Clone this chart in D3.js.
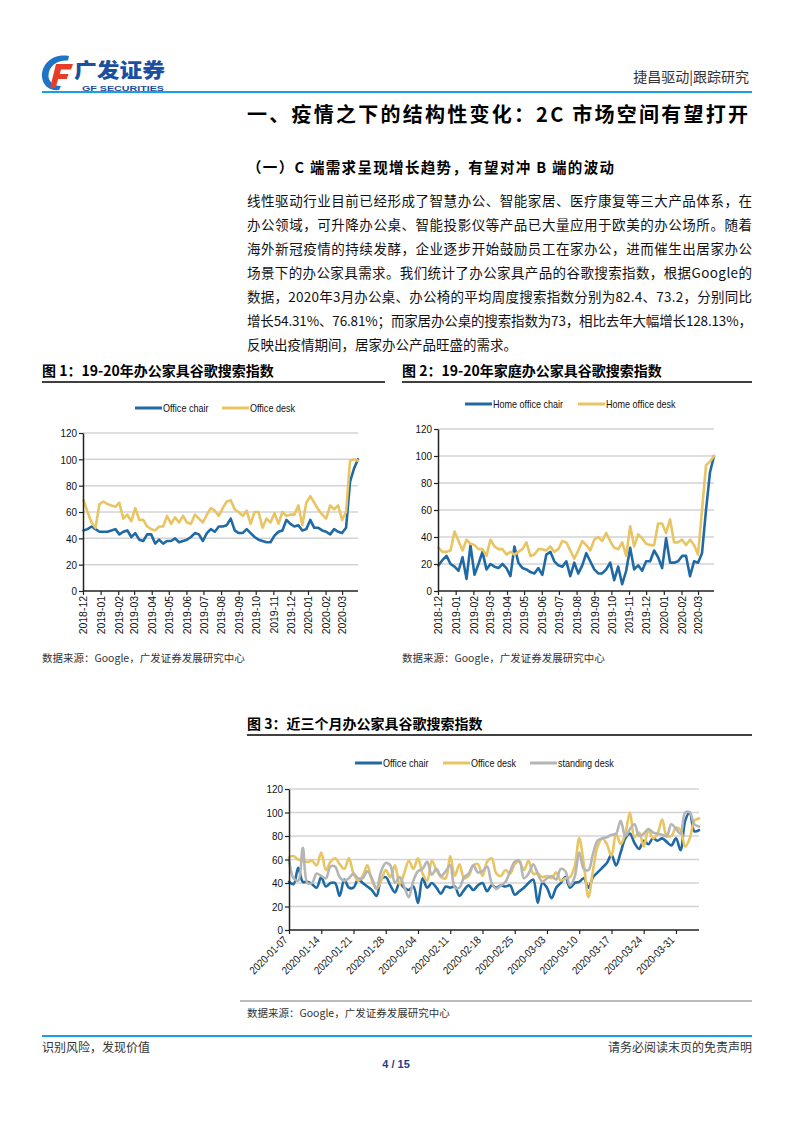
<!DOCTYPE html>
<html><head><meta charset="utf-8">
<script src="https://cdn.jsdelivr.net/npm/d3@7"></script>
<style>
html,body{margin:0;padding:0;background:#fff;}
svg{display:block;}
</style></head><body>
<svg id="page" width="793" height="1122"></svg>
<script>
// ---------- DATA ----------
const monthLabels = ["2018-12","2019-01","2019-02","2019-03","2019-04","2019-05","2019-06","2019-07","2019-08","2019-09","2019-10","2019-11","2019-12","2020-01","2020-02","2020-03"];
const yTicks = [0,20,40,60,80,100,120];

// Fig 1 weekly (2018-12-02 .. 2020-03-29)
const officeChair = [46,47,49,47,45,45,45,46,47,43, 45,46,41,44,39,38,43,43,36,39, 36,38,38,40,37,38,39,41,44,43, 38,44,47,45,49,49,50,55,46,44, 44,47,44,41,39,38,37,37,42,45, 46,54,51,49,50,46,47,54,48,48, 46,45,43,47,45,44,48,83,93,100];
const officeDesk  = [69,60,52,48,66,68,66,65,64,67, 55,58,53,63,54,54,49,47,46,49, 49,57,51,56,52,57,52,51,58,55, 52,58,63,61,57,63,68,69,62,60, 57,61,51,60,60,48,55,52,59,51, 60,57,58,58,65,50,67,72,67,62, 58,55,65,62,65,54,60,99,100,99];

// Fig 2 weekly
const homeChair = [19,23,26,20,18,15,25,9,34,12, 20,29,16,20,18,17,20,17,11,33, 21,17,16,14,13,17,12,27,29,22, 19,18,22,11,21,13,19,28,22,16, 13,13,16,21,8,18,5,15,32,16, 19,15,22,22,30,25,17,39,21,21, 22,26,26,11,22,21,28,60,88,100];
const homeDesk  = [32,29,29,30,44,37,30,38,35,34, 31,31,26,38,33,31,31,27,29,27, 29,31,36,26,27,31,31,30,33,29, 31,37,36,30,24,30,37,34,30,38, 40,37,43,37,32,31,36,26,48,33, 42,39,35,34,34,50,50,43,53,36, 36,38,34,38,34,27,60,93,96,100];

// Fig 3 daily (2020-01-07 .. 2020-04-05)
const dayLabels = ["2020-01-07","2020-01-14","2020-01-21","2020-01-28","2020-02-04","2020-02-11","2020-02-18","2020-02-25","2020-03-03","2020-03-10","2020-03-17","2020-03-24","2020-03-31"];
const dailyChair = [41,39,53,41,41,39,36,45,37,40, 40,29,43,36,36,43,40,37,34,29, 43,45,38,32,40,36,34,37,23,44, 36,40,36,31,37,36,37,29,34,38, 34,38,40,33,38,36,38,37,38,30, 33,36,40,43,23,40,36,27,36,40, 45,36,40,41,44,36,45,49,53,57, 64,55,66,78,82,74,69,76,73,78, 76,78,75,72,78,68,93,100,84,85];
const dailyDesk  = [62,63,60,59,58,59,55,66,51,58, 61,56,52,61,48,42,46,55,42,35, 42,51,45,55,39,48,59,52,61,48, 42,59,51,45,44,63,46,56,44,46, 55,56,46,58,61,48,46,51,48,56, 58,51,59,48,48,45,46,44,49,42, 44,45,54,78,56,28,51,71,78,73, 63,82,73,82,100,79,83,71,85,78, 82,94,80,80,87,85,71,78,93,95];
const dailyStanding = [60,44,42,70,40,40,48,46,44,54, 54,45,42,44,48,44,44,50,44,35, 50,57,55,40,45,37,28,42,50,52, 58,47,52,46,50,55,36,36,45,48, 55,49,50,54,40,35,38,41,50,58, 59,44,48,56,48,41,44,46,43,52, 50,38,45,66,52,51,65,76,78,79, 81,82,93,80,86,90,80,82,86,83, 82,81,80,90,86,82,100,100,90,88];

const bodyLines = [
  "线性驱动行业目前已经形成了智慧办公、智能家居、医疗康复等三大产品体系，在",
  "办公领域，可升降办公桌、智能投影仪等产品已大量应用于欧美的办公场所。随着",
  "海外新冠疫情的持续发酵，企业逐步开始鼓励员工在家办公，进而催生出居家办公",
  "场景下的办公家具需求。我们统计了办公家具产品的谷歌搜索指数，根据Google的",
  "数据，2020年3月办公桌、办公椅的平均周度搜索指数分别为82.4、73.2，分别同比",
  "增长54.31%、76.81%；而家居办公桌的搜索指数为73，相比去年大幅增长128.13%，",
  "反映出疫情期间，居家办公产品旺盛的需求。"
];

// ---------- STYLE ----------
const CJK = "'Noto Sans CJK SC','Noto Sans',sans-serif";
const NUM = "'Liberation Sans',Arial,sans-serif";
const BLUE = "#1f6aa5", YELLOW = "#e8c463", GRAY = "#b5b5b5";
const HEAD_BLUE = "#1aa0e0";

const svg = d3.select("#page");
svg.append("rect").attr("width",793).attr("height",1122).attr("fill","#fff");

// narrow-font imitation
function condense(sel, f){
  sel.each(function(){
    const w = this.getComputedTextLength();
    d3.select(this).attr("textLength", w*f).attr("lengthAdjust","spacingAndGlyphs");
  });
}

// ---------- HEADER ----------
const logo = svg.append("g");
logo.append("path").attr("d","M69,56 C52,53 41,65 42,77 C43,86 50,91 59,90 L61,86 C53,86 48,81 48.5,75 C49,66 57,60 68,60.5 Z").attr("fill","#2074c6");
logo.append("path").attr("d","M56,64 L73,64 L71,69.5 L61,69.5 L59.8,74 L68.5,74 L66.8,79 L58.2,79 L55.5,88 L50,88 Z").attr("fill","#e63c2a");
logo.append("text").attr("x",74).attr("y",77.5).attr("font-family",CJK).attr("font-weight",900)
  .attr("font-size",20.5).attr("fill","#1d4f9f").attr("textLength",91).attr("lengthAdjust","spacingAndGlyphs").text("广发证券");
logo.append("text").attr("x",82).attr("y",90.5).attr("font-family","'Liberation Sans',Arial,sans-serif").attr("font-weight",700)
  .attr("font-size",7.5).attr("fill","#1d4f9f").attr("textLength",82).attr("lengthAdjust","spacingAndGlyphs").text("GF SECURITIES");
svg.append("text").attr("x",749).attr("y",82).attr("text-anchor","end").attr("font-family",CJK)
  .attr("font-size",14).attr("fill","#333").text("捷昌驱动|跟踪研究");
svg.append("line").attr("x1",42).attr("x2",752).attr("y1",92).attr("y2",92).attr("stroke",HEAD_BLUE).attr("stroke-width",2);

// ---------- TITLES & BODY ----------
svg.append("text").attr("x",247).attr("y",122).attr("font-family",CJK).attr("font-weight",700)
  .attr("font-size",20).attr("fill","#000").attr("textLength",501).attr("lengthAdjust","spacing")
  .text("一、疫情之下的结构性变化：2C 市场空间有望打开");
svg.append("text").attr("x",247).attr("y",173).attr("font-family",CJK).attr("font-weight",700)
  .attr("font-size",14.5).attr("fill","#000").attr("textLength",367).attr("lengthAdjust","spacing")
  .text("（一）C 端需求呈现增长趋势，有望对冲 B 端的波动");
svg.selectAll(".body").data(bodyLines).join("text")
  .attr("x",247).attr("y",(d,i)=>206+i*24).attr("font-family",CJK).attr("font-size",13.5).attr("fill","#111")
  .each(function(d,i){ if(i<bodyLines.length-1) d3.select(this).attr("textLength",505).attr("lengthAdjust","spacing"); })
  .text(d=>d);

// ---------- CHART HELPERS ----------
function figTitle(x, y, x2, txt){
  svg.append("text").attr("x",x).attr("y",y).attr("font-family",CJK).attr("font-weight",700)
    .attr("font-size",14).attr("fill","#000").text(txt);
  svg.append("line").attr("x1",x).attr("x2",x2).attr("y1",y+6).attr("y2",y+6).attr("stroke","#000").attr("stroke-width",1.3);
}
function source(x,y){
  svg.append("text").attr("x",x).attr("y",y).attr("font-family",CJK).attr("font-size",10.5).attr("fill","#333")
    .text("数据来源：Google，广发证券发展研究中心");
}
function legend(items, y){
  const g = svg.append("g");
  items.forEach(it=>{
    g.append("line").attr("x1",it.x).attr("x2",it.x+27).attr("y1",y).attr("y2",y).attr("stroke",it.color).attr("stroke-width",3);
    const t = g.append("text").attr("x",it.x+28).attr("y",y+4).attr("font-family",NUM).attr("font-size",11).attr("fill","#111").text(it.label);
    condense(t, 0.82);
  });
}
function chart(cfg){
  const g = svg.append("g");
  const y = d3.scaleLinear().domain([0,120]).range([cfg.bottom, cfg.top]);
  const x = cfg.x;
  g.selectAll("line.grid").data(yTicks.filter(v=>v>0)).join("line").attr("class","grid")
    .attr("x1",cfg.left).attr("x2",cfg.right).attr("y1",d=>y(d)).attr("y2",d=>y(d))
    .attr("stroke","#d3d3d3").attr("stroke-width",1.5);
  const line = d3.line().x(d=>x(d.date)).y(d=>y(d.v)).curve(cfg.curve || d3.curveLinear);
  cfg.series.forEach(s=>{
    const pts = s.values.map((v,i)=>({date: cfg.dates[i], v}));
    g.append("path").datum(pts).attr("d",line).attr("fill","none").attr("stroke",s.color)
      .attr("stroke-width",2.6).attr("stroke-linejoin","round").attr("stroke-linecap","round");
  });
  // y axis
  const ya = g.append("g").attr("transform",`translate(${cfg.left},0)`)
    .call(d3.axisLeft(y).tickValues(yTicks).tickSize(4).tickSizeOuter(0).tickFormat(d3.format("d")));
  ya.select(".domain").attr("stroke","#222").attr("stroke-width",1.5);
  ya.selectAll(".tick line").attr("stroke","#222").attr("stroke-width",1.2);
  const yt = ya.selectAll(".tick text").attr("font-family",NUM).attr("font-size",11.5).attr("fill","#111").attr("x",-6);
  condense(yt, 0.86);
  // x axis
  const xa = g.append("g").attr("transform",`translate(0,${cfg.bottom})`)
    .call(d3.axisBottom(x).tickValues(cfg.tickDates).tickSize(4).tickSizeOuter(0).tickFormat(cfg.fmt));
  xa.select(".domain").attr("stroke","#222").attr("stroke-width",1.5).attr("d",`M${cfg.left},0H${cfg.right}`);
  xa.selectAll(".tick line").attr("stroke","#222").attr("stroke-width",1.2);
  const tt = xa.selectAll(".tick text").attr("font-family",NUM).attr("font-size",11).attr("fill","#111");
  if(cfg.rotate === -90){
    tt.attr("transform","rotate(-90)").attr("text-anchor","end").attr("x",-5).attr("y",0).attr("dy","0.35em");
    condense(tt, 0.95);
  } else {
    tt.attr("transform","translate(-4,8) rotate(-45)").attr("text-anchor","end").attr("x",0).attr("y",0).attr("dy","0.35em");
    condense(tt, 0.86);
  }
}

const parseMonth = d3.timeParse("%Y-%m");
const parseDay = d3.timeParse("%Y-%m-%d");
const fmtMonth = d3.timeFormat("%Y-%m");
const fmtDay = d3.timeFormat("%Y-%m-%d");
const weekDates = d3.timeWeek.range(new Date(2018,11,2), new Date(2020,2,30));
const dayDates = d3.timeDay.range(new Date(2020,0,7), new Date(2020,3,6));

// ---------- FIG 1 ----------
figTitle(42, 376, 385, "图 1：19-20年办公家具谷歌搜索指数");
legend([{x:135,label:"Office chair",color:BLUE},{x:222,label:"Office desk",color:YELLOW}], 408);
chart({
  left:83, right:358, top:433, bottom:591,
  x: d3.scaleTime().domain([new Date(2018,11,1), new Date(2020,2,29)]).range([83,358]),
  dates: weekDates, tickDates: monthLabels.map(parseMonth), fmt: fmtMonth, rotate:-90,
  series:[{values:officeChair,color:BLUE},{values:officeDesk,color:YELLOW}]
});
source(42, 662);

// ---------- FIG 2 ----------
figTitle(402, 376, 752, "图 2：19-20年家庭办公家具谷歌搜索指数");
legend([{x:465,label:"Home office chair",color:BLUE},{x:578,label:"Home office desk",color:YELLOW}], 404);
chart({
  left:438, right:714, top:429, bottom:591,
  x: d3.scaleTime().domain([new Date(2018,11,1), new Date(2020,2,29)]).range([438,714]),
  dates: weekDates, tickDates: monthLabels.map(parseMonth), fmt: fmtMonth, rotate:-90,
  series:[{values:homeChair,color:BLUE},{values:homeDesk,color:YELLOW}]
});
source(402, 662);

// ---------- FIG 3 ----------
figTitle(247, 729, 752, "图 3：近三个月办公家具谷歌搜索指数");
legend([{x:355,label:"Office chair",color:BLUE},{x:443,label:"Office desk",color:YELLOW},{x:530,label:"standing desk",color:GRAY}], 763);
chart({
  left:289, right:699, top:789, bottom:930,
  x: d3.scaleTime().domain([new Date(2020,0,7), new Date(2020,3,5)]).range([289,699]),
  dates: dayDates, tickDates: dayLabels.map(parseDay), fmt: fmtDay, rotate:-45,
  curve: d3.curveCatmullRom.alpha(0.5),
  series:[{values:dailyChair,color:BLUE},{values:dailyDesk,color:YELLOW},{values:dailyStanding,color:GRAY}]
});
svg.append("line").attr("x1",240).attr("x2",752).attr("y1",1001).attr("y2",1001).attr("stroke","#555").attr("stroke-width",0.8);
source(247, 1017);

// ---------- FOOTER ----------
svg.append("line").attr("x1",42).attr("x2",752).attr("y1",1036).attr("y2",1036).attr("stroke",HEAD_BLUE).attr("stroke-width",2);
svg.append("text").attr("x",42).attr("y",1052).attr("font-family",CJK).attr("font-size",12).attr("fill","#333").text("识别风险，发现价值");
svg.append("text").attr("x",752).attr("y",1052).attr("text-anchor","end").attr("font-family",CJK).attr("font-size",12).attr("fill","#333").text("请务必阅读末页的免责声明");
svg.append("text").attr("x",396).attr("y",1068).attr("text-anchor","middle").attr("font-family","'Liberation Sans',Arial,sans-serif")
  .attr("font-weight",700).attr("font-size",11).attr("fill","#1d3f8a").text("4 / 15");
</script>
</body></html>
